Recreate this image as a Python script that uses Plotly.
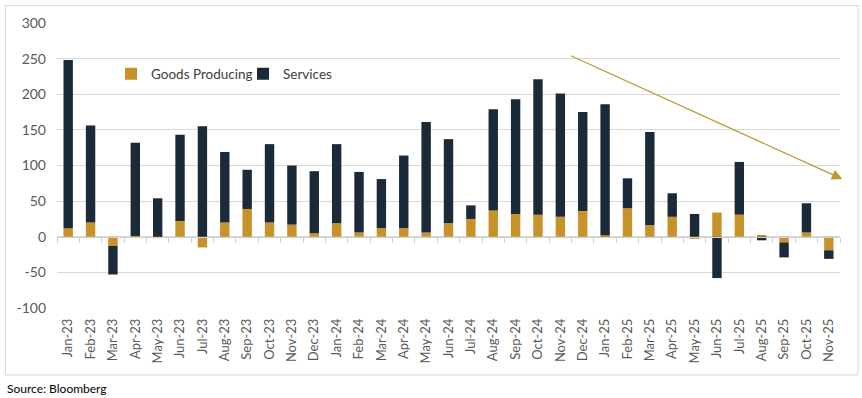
import plotly.graph_objects as go

months = ["Jan-23","Feb-23","Mar-23","Apr-23","May-23","Jun-23","Jul-23","Aug-23","Sep-23","Oct-23","Nov-23","Dec-23",
          "Jan-24","Feb-24","Mar-24","Apr-24","May-24","Jun-24","Jul-24","Aug-24","Sep-24","Oct-24","Nov-24","Dec-24",
          "Jan-25","Feb-25","Mar-25","Apr-25","May-25","Jun-25","Jul-25","Aug-25","Sep-25","Oct-25","Nov-25"]
goods = [12, 20, -13, 1, -2, 22, -15, 20, 39, 20, 17, 5,
         19, 6, 12, 12, 6, 19, 25, 37, 32, 31, 28, 36,
         2, 40, 16, 28, -3, 34, 31, 2, -8, 6, -19]
services = [236, 136, -40, 131, 54, 121, 155, 99, 55, 110, 83, 87,
            111, 85, 69, 102, 155, 118, 19, 142, 161, 190, 173, 139,
            184, 42, 131, 33, 32, -58, 74, -5, -21, 41, -12]
y_ticks = [-100, -50, 0, 50, 100, 150, 200, 250, 300]
y_tick_labels = ["-100", "-50", "0", "50", "100", "150", "200", "250", "300"]
trend_start = (22.4, 255)
trend_end = (34.6, 81)

GOLD = "#C8922A"
NAVY = "#1A2A38"
FONT = "Lato"

fig = go.Figure()
fig.add_trace(go.Bar(x=months, y=goods, name="Goods Producing", marker=dict(color=GOLD, line_width=0)))
fig.add_trace(go.Bar(x=months, y=services, name="Services", marker=dict(color=NAVY, line_width=0)))
# helper trace so the zero-line category axis (with boundary ticks) is drawn
fig.add_trace(go.Scatter(x=months, y=[0]*len(months), xaxis="x2", mode="markers",
                         marker=dict(opacity=0), showlegend=False, hoverinfo="skip"))

fig.add_annotation(x=trend_end[0], y=trend_end[1], ax=trend_start[0], ay=trend_start[1],
                   xref="x", yref="y", axref="x", ayref="y", text="", showarrow=True,
                   arrowhead=2, arrowsize=1.6, arrowwidth=1.3, arrowcolor="#BB9C2E")

fig.add_annotation(text="Source: Bloomberg", x=-0.0664, y=-0.281, xref="paper", yref="paper",
                   xanchor="left", yanchor="middle", showarrow=False,
                   font=dict(family=FONT, size=12, color="#000000"))

fig.add_shape(type="rect", xref="paper", yref="paper", x0=-0.0658, x1=1.023, y0=-0.235, y1=1.061,
              line=dict(color="#D9D9D9", width=1), fillcolor="rgba(0,0,0,0)", layer="below")

fig.update_layout(
    width=862, height=398,
    margin=dict(l=57, r=22, t=23, b=90),
    barmode="relative", bargap=0.58,
    plot_bgcolor="white", paper_bgcolor="white",
    font=dict(family=FONT, size=13, color="#595959"),
    legend=dict(orientation="h", x=0.069, y=0.821, xanchor="left", yanchor="middle",
                font=dict(family=FONT, size=13.5, color="#404040"), bgcolor="rgba(0,0,0,0)",
                entrywidth=87, entrywidthmode="pixels", traceorder="normal"),
    xaxis=dict(type="category", showgrid=False, showline=False, ticks="", tickangle=-90,
               ticklabelstandoff=7, range=[-0.5, len(months) - 0.5],
               tickfont=dict(family=FONT, size=13, color="#595959"), zeroline=False),
    xaxis2=dict(type="category", overlaying="x", anchor="free", position=0.25,
                range=[-0.5, len(months) - 0.5],
                side="bottom", showticklabels=False, showline=True, linecolor="#D0D0D0", linewidth=1,
                ticks="outside", tickson="boundaries", ticklen=5, tickcolor="#D0D0D0", showgrid=False),
    yaxis=dict(range=[-100, 300], tickvals=y_ticks, ticktext=y_tick_labels,
               showgrid=True, gridcolor="#D9D9D9", gridwidth=1,
               zeroline=False, showline=False, ticks="", ticklabelstandoff=10,
               tickfont=dict(family=FONT, size=14, color="#595959")),
    showlegend=True,
)

fig.write_html("out.html", config={"displayModeBar": False},
               post_script="document.body.style.margin='0px';document.body.style.padding='0px';")
